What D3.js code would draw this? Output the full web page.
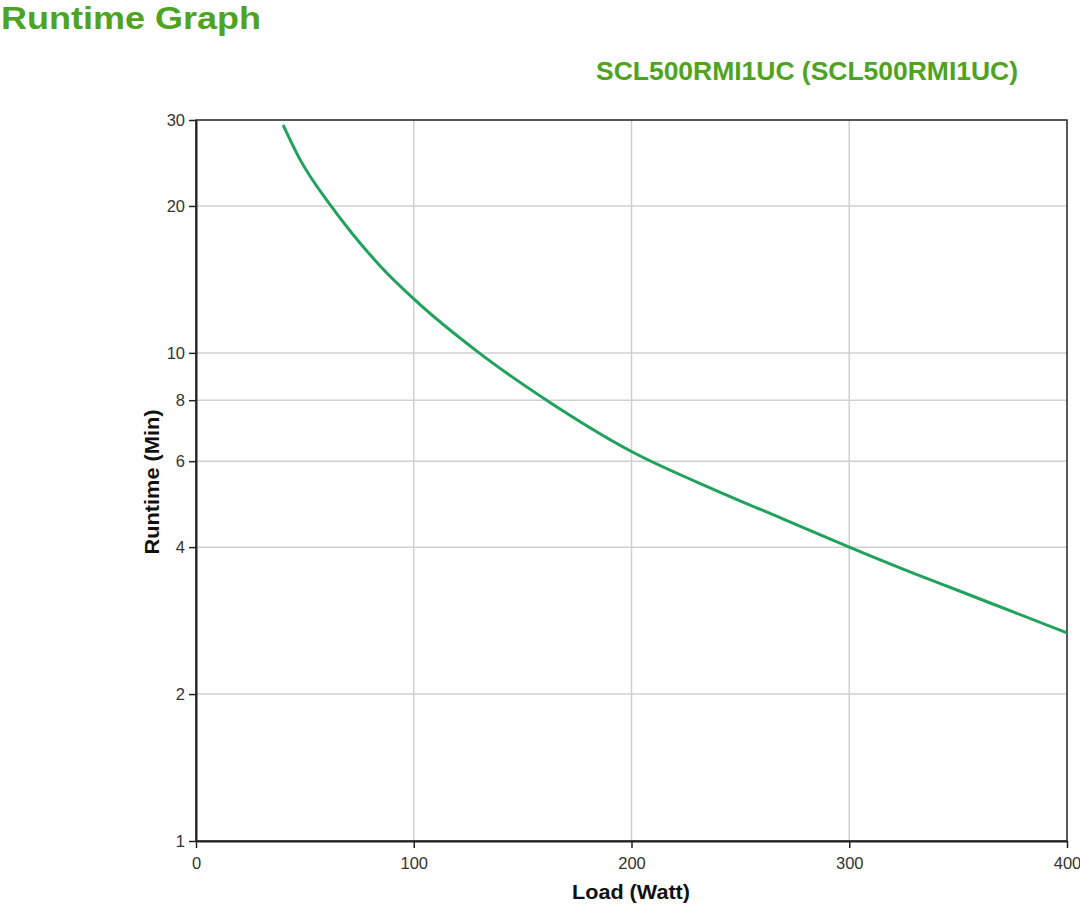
<!DOCTYPE html>
<html>
<head>
<meta charset="utf-8">
<script src="https://cdn.jsdelivr.net/npm/d3@7"></script>
<style>
	body { margin: 0; background: #fff; }
	svg { display: block; font-family: "Liberation Sans", Arial, sans-serif; }
</style>
</head>
<body>
<div id="chart"></div>
<script>
(function () {
	// data
	var loads = [40, 48, 62, 72, 85, 100, 130, 161, 200, 240, 270, 300, 332, 350, 375, 400];
	var runtimes = [29.3, 24.8, 20, 17.5, 15, 12.9, 10, 8, 6.28, 5.2, 4.56, 4.0, 3.5, 3.26, 2.95, 2.67];
	var xTicks = [0, 100, 200, 300, 400];
	var yTicks = [1, 2, 4, 6, 8, 10, 20, 30];

	var title = 'Runtime Graph';
	var subtitle = 'SCL500RMI1UC (SCL500RMI1UC)';
	var green = '#4ea31f';
	var lineColor = '#1fa35c';
	var gridColor = '#d0d0d0';
	var fontColor = '#333';

	var width = 1080;
	var height = 905;
	var margin = { top: 120, right: 13, bottom: 64, left: 196 };
	var innerW = width - margin.left - margin.right;
	var innerH = height - margin.top - margin.bottom;

	var points = loads.map((d, i) => ({ load: d, runtime: runtimes[i] }));

	var x = d3.scaleLinear().domain([0, 400]).range([0, innerW]);
	var y = d3.scaleLog().domain([1, 30]).range([innerH, 0]);

	var svg = d3.select('#chart').append('svg')
		.attr('width', width).attr('height', height);

	svg.append('text')
		.attr('x', 1).attr('y', 29)
		.attr('font-size', 32).attr('font-weight', 'bold')
		.attr('fill', green)
		.attr('textLength', 260).attr('lengthAdjust', 'spacingAndGlyphs')
		.text(title);

	svg.append('text')
		.attr('x', 596).attr('y', 80)
		.attr('font-size', 25).attr('font-weight', 'bold')
		.attr('fill', green)
		.attr('textLength', 422).attr('lengthAdjust', 'spacingAndGlyphs')
		.text(subtitle);

	var g = svg.append('g')
		.attr('transform', 'translate(' + [margin.left, margin.top] + ')');

	// grid lines
	g.append('g').selectAll('line')
		.data(xTicks.filter(d => d > 0 && d < 400))
		.enter().append('line')
		.attr('x1', d => x(d)).attr('x2', d => x(d))
		.attr('y1', 0).attr('y2', innerH)
		.attr('stroke', gridColor).attr('stroke-width', 1.5);
	g.append('g').selectAll('line')
		.data(yTicks.filter(d => d > 1 && d < 30))
		.enter().append('line')
		.attr('x1', 0).attr('x2', innerW)
		.attr('y1', d => y(d)).attr('y2', d => y(d))
		.attr('stroke', gridColor).attr('stroke-width', 1.5);

	// frame
	g.append('rect')
		.attr('width', innerW).attr('height', innerH)
		.attr('fill', 'none').attr('stroke', '#222').attr('stroke-width', 1.5);

	// axes
	var xAxis = g.append('g')
		.attr('transform', 'translate(0,' + innerH + ')')
		.call(d3.axisBottom(x).tickValues(xTicks).tickSize(7).tickPadding(9).tickSizeOuter(0));
	var yAxis = g.append('g')
		.call(d3.axisLeft(y).tickValues(yTicks).tickFormat(d3.format('d')).tickSize(7).tickPadding(4).tickSizeOuter(0));

	[xAxis, yAxis].forEach(a => {
		a.select('.domain').attr('stroke', '#222').attr('stroke-width', 2);
		a.selectAll('.tick line').attr('stroke', '#222').attr('stroke-width', 1.5);
		a.selectAll('.tick text')
			.attr('font-size', 16.5).attr('fill', fontColor)
			.attr('font-family', '"Liberation Sans", Arial, sans-serif');
	});

	// runtime curve
	var line = d3.line()
		.x(d => x(d.load))
		.y(d => y(d.runtime))
		.curve(d3.curveMonotoneX);

	g.append('path')
		.datum(points)
		.attr('d', line)
		.attr('fill', 'none')
		.attr('stroke', lineColor)
		.attr('stroke-width', 3);

	// axis titles
	svg.append('text')
		.attr('x', 631).attr('y', 899)
		.attr('text-anchor', 'middle')
		.attr('font-size', 21).attr('font-weight', 'bold')
		.attr('fill', '#111')
		.attr('textLength', 118).attr('lengthAdjust', 'spacingAndGlyphs')
		.text('Load (Watt)');

	svg.append('text')
		.attr('transform', 'translate(159,482) rotate(-90)')
		.attr('text-anchor', 'middle')
		.attr('font-size', 21).attr('font-weight', 'bold')
		.attr('fill', '#111')
		.attr('textLength', 145).attr('lengthAdjust', 'spacingAndGlyphs')
		.text('Runtime (Min)');
})();
</script>
</body>
</html>
